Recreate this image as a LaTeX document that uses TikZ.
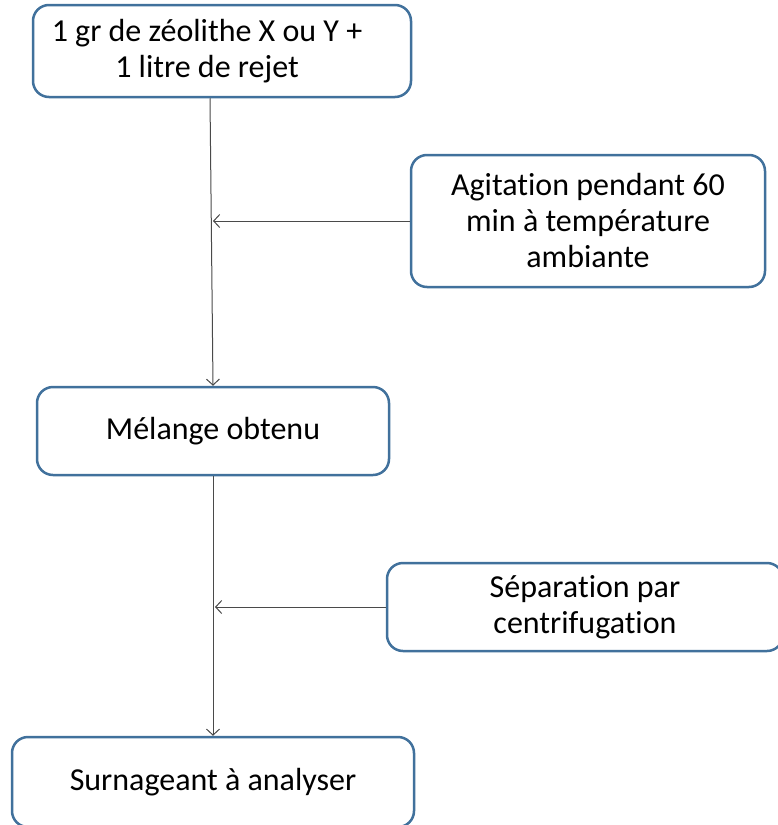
\documentclass[tikz,border=0pt]{standalone}
\usepackage{fontspec}
\setmainfont{Carlito}[Ligatures = NoCommon]
\definecolor{boxblue}{HTML}{41719C}
\definecolor{linegray}{HTML}{4A4A4A}
\usetikzlibrary{arrows.meta, positioning}
\begin{document}
\begin{tikzpicture}[x=1pt, y=-1pt,
		stepbox/.style = {draw = boxblue, line width = 2.5pt, rounded corners = 16pt, fill = white, align = center, font = \fontsize{32}{36}\selectfont, inner sep = 0pt},
		flow/.style = {draw = linegray, line width = 1pt, -{Straight Barb[length = 6pt, width = 13pt, line width = 1pt]}}]
		\useasboundingbox (0,0) rectangle (777,825);
		\node[stepbox, minimum width = 378pt, minimum height = 92pt] (start) at (222,51) {1 gr de zéolithe X ou Y +\hspace*{30pt}\\1 litre de rejet\hspace*{30pt}};
		\node[stepbox, minimum width = 354pt, minimum height = 132pt] (agit) at (588,221) {Agitation pendant 60\\min à température\\ambiante};
		\node[stepbox, minimum width = 352pt, minimum height = 88pt] (melange) at (213,431) {Mélange obtenu};
		\node[stepbox, minimum width = 396pt, minimum height = 88pt] (sep) at (585,607) {Séparation par\\centrifugation};
		\node[stepbox, minimum width = 402pt, minimum height = 90pt] (surn) at (213,782) {Surnageant à analyser};
		% connectors
		\draw[flow] ([xshift = -12pt]start.south) -- (melange.north);
		\draw[flow] (agit.west) -- (agit.west -| melange.north);
		\draw[flow] (melange.south) -- (surn.north);
		\draw[flow] (sep.west) -- ([xshift = 2pt]sep.west -| melange.south);
\end{tikzpicture}
\end{document}
